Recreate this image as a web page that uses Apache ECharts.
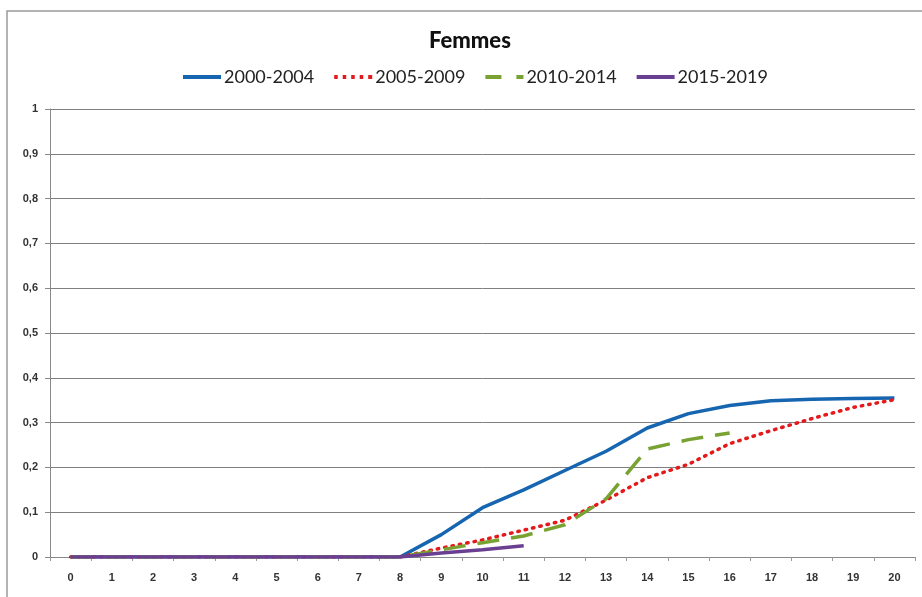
<!DOCTYPE html>
<html>
<head>
<meta charset="utf-8">
<script src="https://cdn.jsdelivr.net/npm/echarts@6/dist/echarts.min.js"></script>
<style>
  html, body { margin: 0; padding: 0; background: #fff; }
  #chart { width: 922px; height: 597px; }
</style>
</head>
<body>
<div id="chart"></div>
<script>
// Years since diagnosis (0 to 20)
const years = ['0','1','2','3','4','5','6','7','8','9','10','11','12','13','14','15','16','17','18','19','20'];

// Cumulative proportion per period
const p2000_2004 = [0,0,0,0,0,0,0,0,0,0.05,0.11,0.15,0.193,0.236,0.288,0.32,0.338,0.349,0.352,0.354,0.355];
const p2005_2009 = [0,0,0,0,0,0,0,0,0,0.02,0.038,0.06,0.082,0.127,0.177,0.207,0.253,0.282,0.309,0.334,0.351];
const p2010_2014 = [0,0,0,0,0,0,0,0,0,0.016,0.032,0.047,0.072,0.13,0.241,0.262,0.277];
const p2015_2019 = [0,0,0,0,0,0,0,0,0,0.009,0.016,0.025];

const seriesNames = ['2000-2004', '2005-2009', '2010-2014', '2015-2019'];
const yTicks = [0, 0.1, 0.2, 0.3, 0.4, 0.5, 0.6, 0.7, 0.8, 0.9, 1];

// Legend swatches drawn as small paths (solid, dotted, dashed, solid)
const legendIcons = [
  'path://M0,0H38V4H0Z',
  'path://M0,0h3.5v4h-3.5z M8.5,0h3.5v4h-3.5z M17,0h3.5v4h-3.5z M25.5,0h3.5v4h-3.5z M34,0h4v4h-4z',
  'path://M0,0h16v4h-16z M31,0h7v4h-7z',
  'path://M0,0H38V4H0Z'
];

const chart = echarts.init(document.getElementById('chart'));

const labelFont = { fontFamily: 'Liberation Sans Narrow, Liberation Sans, sans-serif', fontWeight: 'bold', fontSize: 11, color: '#333' };

chart.setOption({
  animation: false,
  backgroundColor: '#fff',
  title: {
    text: 'Femmes',
    left: 424,
    top: 25,
    textStyle: { fontFamily: 'Lato, Open Sans, sans-serif', fontWeight: 900, fontSize: 22, color: '#111' }
  },
  legend: {
    top: 63,
    left: 178,
    itemWidth: 38,
    itemHeight: 4,
    itemGap: 20,
    textStyle: { fontFamily: 'Lato, Open Sans, sans-serif', fontSize: 18, color: '#222', padding: [0, 0, 0, -2] },
    data: seriesNames.map((n, i) => ({ name: n, icon: legendIcons[i] }))
  },
  grid: { left: 50, right: 7, top: 109, bottom: 40 },
  xAxis: {
    type: 'category',
    data: years,
    boundaryGap: true,
    axisLine: { lineStyle: { color: '#888', width: 1 } },
    axisTick: { show: true, length: 4, lineStyle: { color: '#999' } },
    axisLabel: Object.assign({ margin: 15 }, labelFont)
  },
  yAxis: {
    type: 'value',
    min: yTicks[0],
    max: yTicks[yTicks.length - 1],
    interval: 0.1,
    axisLine: { show: true, lineStyle: { color: '#888' } },
    axisTick: { show: true, length: 5, lineStyle: { color: '#888' } },
    splitLine: { lineStyle: { color: '#7f7f7f', width: 1 } },
    axisLabel: Object.assign({
      margin: 12,
      formatter: v => String(Math.round(v * 10) / 10).replace('.', ',')
    }, labelFont)
  },
  series: [
    {
      name: seriesNames[0], type: 'line', data: p2000_2004, symbol: 'none',
      lineStyle: { color: '#1565b0', width: 3.5 }, itemStyle: { color: '#1565b0' }
    },
    {
      name: seriesNames[1], type: 'line', data: p2005_2009, symbol: 'none',
      lineStyle: { color: '#e3191c', width: 3.5, type: [1.5, 6], cap: 'round' }, itemStyle: { color: '#e3191c' }
    },
    {
      name: seriesNames[2], type: 'line', data: p2010_2014, symbol: 'none',
      lineStyle: { color: '#78a232', width: 3.5, type: [22, 12] }, itemStyle: { color: '#78a232' }
    },
    {
      name: seriesNames[3], type: 'line', data: p2015_2019, symbol: 'none',
      lineStyle: { color: '#6a3f92', width: 3.5 }, itemStyle: { color: '#6a3f92' }
    }
  ],
  graphic: [
    {
      type: 'rect',
      shape: { x: 7, y: 11, width: 940, height: 620 },
      style: { fill: 'none', stroke: '#9a9a9a', lineWidth: 1.5 },
      silent: true, z: -1
    }
  ]
});
</script>
</body>
</html>
